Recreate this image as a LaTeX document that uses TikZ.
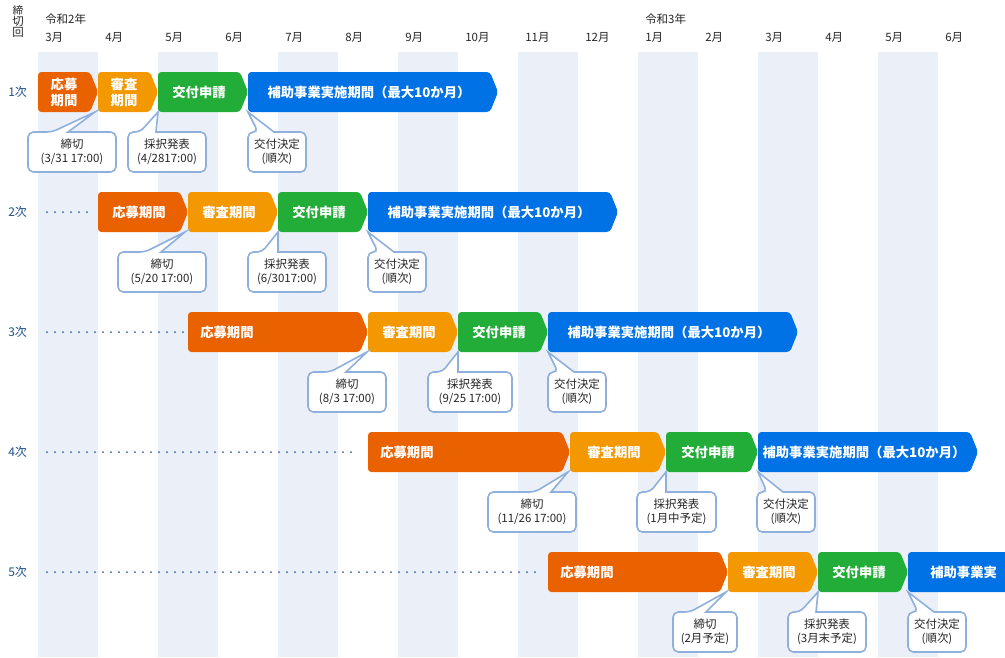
\documentclass[tikz,border=0pt]{standalone}
\usepackage{fontspec}
\setmainfont{Noto Sans CJK JP}
\definecolor{cO}{HTML}{EA6100}
\definecolor{cY}{HTML}{F39800}
\definecolor{cG}{HTML}{22AC38}
\definecolor{cB}{HTML}{0072E5}
\definecolor{stripe}{HTML}{EBF0F8}
\definecolor{cl}{HTML}{8FB0DC}
\definecolor{rl}{HTML}{1E4F8C}
\definecolor{dt}{HTML}{2A66B5}
\newcommand{\pbar}[6]{% x1,x2,yc,color,text,align(c/l)
  \fill[#4,rounded corners=2.5] (#1,#3-20) -- (#2-8,#3-20) -- (#2,#3) -- (#2-8,#3+20) -- (#1,#3+20) -- cycle;
  \ifx l#6
    \node[bartext,anchor=west] at (#1+12,#3) {#5};
  \else
    \node[bartext] at ({(#1+#2-8)/2},#3) {#5};
  \fi}
\newcommand{\callout}[7]{% x1,x2,ytop,tipx,tipy,text,base-left
  \draw[cl,line width=1.2pt,fill=white,rounded corners=4] (#1,#3) -- (#7,#3) [sharp corners]-- (#4,#5) -- (#7+16,#3) [rounded corners=4]-- (#2,#3) -- (#2,#3+40) -- (#1,#3+40) -- cycle;
  \node[calltext] at ({(#1+#2)/2},#3+20) {#6};}
\begin{document}
\begin{tikzpicture}[x=0.75pt,y=-0.75pt,
  bartext/.style={text=white,font=\fontsize{10}{12}\selectfont\bfseries,align=center,inner sep=0},
  calltext/.style={text=black!85,font=\fontsize{8.6}{10.5}\selectfont,align=center,inner sep=0},
  lab/.style={font=\fontsize{8.6}{10.5}\selectfont,text=black!85,inner sep=0,anchor=west},
  rowlab/.style={font=\fontsize{9}{11}\selectfont,text=rl,inner sep=0,anchor=west},
  dots/.style={dt,line width=1.5pt,line cap=round,dash pattern=on 0pt off 6pt}]
\useasboundingbox (0,0) rectangle (1005,657);
\foreach \x in {38,158,278,398,518,638,758,878} \fill[stripe] (\x,52) rectangle (\x+60,657);
% header
\node[lab,align=center,anchor=north] at (18,5) {\fontsize{8}{10}\selectfont 締\\[-2pt]切\\[-2pt]回};
\node[lab] at (45,19) {令和2年};
\node[lab] at (645,19) {令和3年};
\foreach \m [count=\i from 0] in {3月,4月,5月,6月,7月,8月,9月,10月,11月,12月,1月,2月,3月,4月,5月,6月}
  \node[lab] at (45+60*\i,37) {\m};
\foreach \r/\y in {1/92,2/212,3/332,4/452,5/572} \node[rowlab] at (8,\y) {\r 次};
% dots
\draw[dots] (47,212) -- (92,212);
\draw[dots] (47,332) -- (183,332);
\draw[dots] (47,452) -- (356,452);
\draw[dots] (47,572) -- (536,572);
% row 1
\pbar{38}{98}{92}{cO}{応募\\期間}{c}
\pbar{98}{158}{92}{cY}{審査\\期間}{c}
\pbar{158}{248}{92}{cG}{交付申請}{c}
\pbar{248}{498}{92}{cB}{補助事業実施期間（最大10か月）}{c}
\callout{28}{116}{132}{95}{112}{締切\\(3/31\ 17:00)}{52}
\callout{128}{206}{132}{158}{112}{採択発表\\(4/2817:00)}{140}
\callout{248}{306}{132}{248}{112}{交付決定\\(順次)}{258}
% row 2
\pbar{98}{188}{212}{cO}{応募期間}{c}
\pbar{188}{278}{212}{cY}{審査期間}{c}
\pbar{278}{368}{212}{cG}{交付申請}{c}
\pbar{368}{618}{212}{cB}{補助事業実施期間（最大10か月）}{c}
\callout{118}{206}{252}{185}{232}{締切\\(5/20\ 17:00)}{145}
\callout{248}{326}{252}{278}{232}{採択発表\\(6/3017:00)}{262}
\callout{368}{426}{252}{368}{232}{交付決定\\(順次)}{378}
% row 3
\pbar{188}{368}{332}{cO}{応募期間}{l}
\pbar{368}{458}{332}{cY}{審査期間}{c}
\pbar{458}{548}{332}{cG}{交付申請}{c}
\pbar{548}{798}{332}{cB}{補助事業実施期間（最大10か月）}{c}
\callout{308}{386}{372}{367}{352}{締切\\(8/3\ 17:00)}{330}
\callout{428}{512}{372}{458}{352}{採択発表\\(9/25\ 17:00)}{442}
\callout{548}{606}{372}{548}{352}{交付決定\\(順次)}{558}
% row 4
\pbar{368}{570}{452}{cO}{応募期間}{l}
\pbar{570}{666}{452}{cY}{審査期間}{c}
\pbar{666}{758}{452}{cG}{交付申請}{c}
\pbar{758}{978}{452}{cB}{補助事業実施期間（最大10か月）}{c}
\callout{488}{576}{492}{568}{472}{締切\\(11/26\ 17:00)}{535}
\callout{637}{716}{492}{666}{472}{採択発表\\(1月中予定)}{650}
\callout{757}{815}{492}{758}{472}{交付決定\\(順次)}{767}
% row 5
\pbar{548}{728}{572}{cO}{応募期間}{l}
\pbar{728}{818}{572}{cY}{審査期間}{c}
\pbar{818}{908}{572}{cG}{交付申請}{c}
\fill[cB,rounded corners=2.5] (908,552) rectangle (1010,592);
\node[bartext,anchor=west] at (930,572) {補助事業実};
\callout{673}{737}{612}{726}{592}{締切\\(2月予定)}{690}
\callout{788}{866}{612}{818}{592}{採択発表\\(3月末予定)}{800}
\callout{908}{966}{612}{908}{592}{交付決定\\(順次)}{918}
\end{tikzpicture}
\end{document}
